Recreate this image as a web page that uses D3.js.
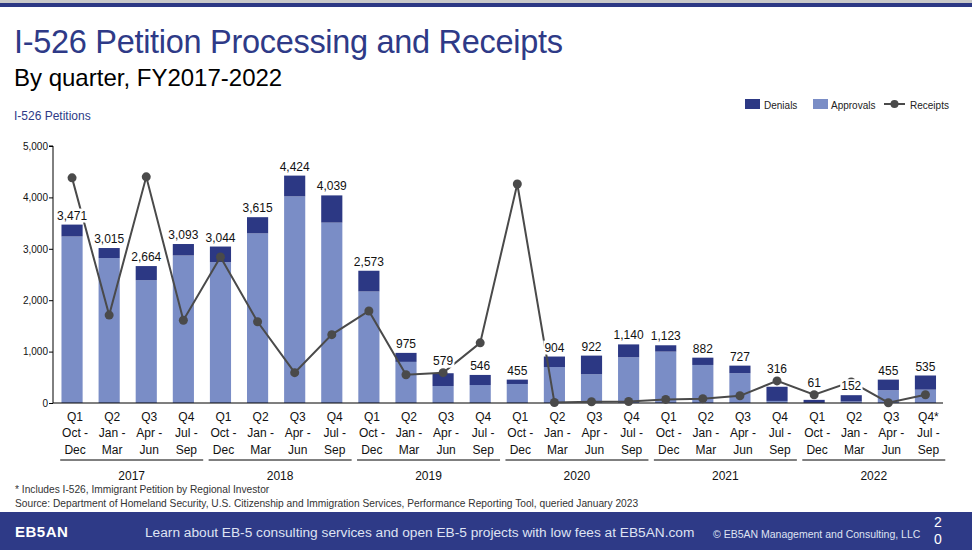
<!DOCTYPE html>
<html>
<head>
<meta charset="utf-8">
<script src="https://cdn.jsdelivr.net/npm/d3@7/dist/d3.min.js"></script>
<style>
  html, body { margin: 0; padding: 0; background: #fff; }
  svg { display: block; font-family: "Liberation Sans", Arial, sans-serif; }
</style>
</head>
<body>
<svg id="chart" width="972" height="550"></svg>
<script>
// quarters of each fiscal year
const years = ["2017", "2018", "2019", "2020", "2021", "2022"];
const quarters = ["Q1", "Q2", "Q3", "Q4"];
const months = [["Oct -", "Dec"], ["Jan -", "Mar"], ["Apr -", "Jun"], ["Jul -", "Sep"]];

const totals    = [3471, 3015, 2664, 3093, 3044, 3615, 4424, 4039, 2573, 975, 579, 546,
                   455, 904, 922, 1140, 1123, 882, 727, 316, 61, 152, 455, 535];
const approvals = [3240, 2820, 2390, 2870, 2740, 3300, 4020, 3510, 2170, 800, 330, 350,
                   370, 700, 560, 890, 1000, 740, 580, 40, 5, 30, 250, 260];
const denials   = [231, 195, 274, 223, 304, 315, 404, 529, 403, 175, 249, 196,
                   85, 204, 362, 250, 123, 142, 147, 276, 56, 122, 205, 275];
const receipts  = [4380, 1710, 4400, 1610, 2840, 1580, 590, 1330, 1790, 550, 590, 1170,
                   4260, 10, 25, 30, 70, 85, 140, 430, 160, 410, 5, 160];
const yTicks = [0, 1000, 2000, 3000, 4000, 5000];

const navy = "#2c3884";
const light = "#7a8dc6";
const lineCol = "#4a4a4a";

const svg = d3.select("#chart");

// rows: one per quarter
let rows = [];
years.forEach((y, yi) => {
  quarters.forEach((q, qi) => {
    let i = yi * 4 + qi;
    rows.push({
      key: y + q, year: y, q: (y == "2022" && q == "Q4") ? "Q4*" : q, m: months[qi],
      approvals: approvals[i], denials: denials[i], total: totals[i], receipts: receipts[i]
    });
  });
});

// top rules
svg.append("rect").attr("x", 0).attr("y", 0).attr("width", 972).attr("height", 3).attr("fill", "#c9c9c9");
svg.append("rect").attr("x", 0).attr("y", 3).attr("width", 972).attr("height", 4).attr("fill", navy);

// titles
svg.append("text").attr("x", 14).attr("y", 53).attr("fill", "#2e3a87")
  .attr("font-size", 32.5).attr("letter-spacing", -0.3)
  .text("I-526 Petition Processing and Receipts");
svg.append("text").attr("x", 14).attr("y", 86).attr("fill", "#000")
  .attr("font-size", 24).text("By quarter, FY2017-2022");
svg.append("text").attr("x", 14).attr("y", 120).attr("fill", "#2e3a87")
  .attr("font-size", 12).text("I-526 Petitions");

// scales
const x = d3.scaleBand().domain(rows.map(d => d.key)).range([53.5, 944])
  .paddingInner(0.43).paddingOuter(0.215);
const y = d3.scaleLinear().domain([0, 5000]).range([403, 146]);
const bw = x.bandwidth();
const cx = d => x(d.key) + bw / 2;

// y axis
let yAxis = svg.append("g").attr("transform", "translate(53,0)")
  .call(d3.axisLeft(y).tickValues(yTicks).tickSize(4).tickFormat(d3.format(",")));
yAxis.select(".domain").attr("stroke", "#000").attr("d", "M-4," + y(5000) + "H0V" + y(0));
yAxis.selectAll(".tick line").attr("stroke", "#000");
yAxis.selectAll(".tick text").attr("font-size", 10).attr("fill", "#111")
  .attr("font-family", "Liberation Sans, Arial, sans-serif").attr("x", -5);

// bars
const stack = svg.append("g");
stack.selectAll("rect.app").data(rows).join("rect").attr("class", "app")
  .attr("x", d => x(d.key)).attr("width", bw)
  .attr("y", d => y(d.approvals)).attr("height", d => y(0) - y(d.approvals))
  .attr("fill", light);
stack.selectAll("rect.den").data(rows).join("rect").attr("class", "den")
  .attr("x", d => x(d.key)).attr("width", bw)
  .attr("y", d => y(d.approvals + d.denials)).attr("height", d => y(d.approvals) - y(d.approvals + d.denials))
  .attr("fill", navy);

// x axis baseline
svg.append("line").attr("x1", 53).attr("x2", 943).attr("y1", y(0)).attr("y2", y(0))
  .attr("stroke", "#000").attr("stroke-width", 1.2);

// receipts line
const line = d3.line().x(d => cx(d)).y(d => y(d.receipts));
svg.append("path").datum(rows).attr("d", line)
  .attr("fill", "none").attr("stroke", lineCol).attr("stroke-width", 2);
svg.selectAll("circle.rc").data(rows).join("circle").attr("class", "rc")
  .attr("cx", d => cx(d)).attr("cy", d => y(d.receipts)).attr("r", 4.5).attr("fill", lineCol);

// value labels (white box, nudged up when a marker sits at the bar top)
const labY = d => {
  let top = y(d.total), m = y(d.receipts);
  return (m > top - 12) ? Math.min(top - 5, m - 8) : top - 5;
};
const labels = svg.append("g").selectAll("g").data(rows).join("g")
  .attr("transform", d => `translate(${cx(d)},${labY(d)})`);
labels.append("text").attr("text-anchor", "middle").attr("font-size", 12).attr("fill", "#111")
  .text(d => d3.format(",")(d.total));
labels.each(function() {
  let g = d3.select(this);
  let b = g.select("text").node().getBBox();
  g.insert("rect", "text").attr("x", b.x - 1).attr("y", b.y).attr("width", b.width + 2)
    .attr("height", b.height).attr("fill", "#fff");
});

// category labels
const lab = svg.append("g").attr("font-size", 12).attr("fill", "#111").attr("text-anchor", "middle");
rows.forEach(d => {
  let lx = cx(d) + 3;
  lab.append("text").attr("x", lx).attr("y", 421).text(d.q);
  lab.append("text").attr("x", lx).attr("y", 437).text(d.m[0]);
  lab.append("text").attr("x", lx).attr("y", 454).text(d.m[1]);
});
years.forEach(yr => {
  let first = rows.find(r => r.year == yr), last = rows.filter(r => r.year == yr).pop();
  let mid = (cx(first) + cx(last)) / 2 + 4;
  svg.append("line").attr("x1", mid - 71.5).attr("x2", mid + 71.5).attr("y1", 460).attr("y2", 460)
    .attr("stroke", "#000").attr("stroke-width", 1);
  lab.append("text").attr("x", mid).attr("y", 480).text(yr);
});

// legend
const leg = svg.append("g").attr("font-size", 10).attr("fill", "#222");
leg.append("rect").attr("x", 745).attr("y", 99).attr("width", 15).attr("height", 10).attr("fill", navy);
leg.append("text").attr("x", 764).attr("y", 108.5).text("Denials");
leg.append("rect").attr("x", 813).attr("y", 99).attr("width", 15).attr("height", 10).attr("fill", light);
leg.append("text").attr("x", 831).attr("y", 108.5).text("Approvals");
leg.append("line").attr("x1", 884).attr("x2", 905).attr("y1", 104).attr("y2", 104)
  .attr("stroke", lineCol).attr("stroke-width", 2);
leg.append("circle").attr("cx", 894.5).attr("cy", 104).attr("r", 4).attr("fill", lineCol);
leg.append("text").attr("x", 910).attr("y", 108.5).text("Receipts");

// notes
svg.append("text").attr("x", 15).attr("y", 493).attr("font-size", 10.2).attr("fill", "#333")
  .text("* Includes I-526, Immigrant  Petition by Regional Investor");
svg.append("text").attr("x", 15).attr("y", 507).attr("font-size", 10.2).attr("fill", "#333")
  .text("Source: Department of Homeland Security, U.S. Citizenship and Immigration Services, Performance Reporting Tool, queried January 2023");

// footer band
svg.append("rect").attr("x", 0).attr("y", 512).attr("width", 972).attr("height", 38).attr("fill", "#2e3a87");
svg.append("text").attr("x", 15).attr("y", 537).attr("font-size", 15).attr("font-weight", "bold")
  .attr("fill", "#fff").attr("letter-spacing", 0.5).text("EB5AN");
svg.append("text").attr("x", 145).attr("y", 537).attr("font-size", 13.7).attr("fill", "#dfe3f3")
  .text("Learn about EB-5 consulting services and open EB-5 projects with low fees at EB5AN.com");
svg.append("text").attr("x", 713).attr("y", 538).attr("font-size", 10.5).attr("fill", "#dfe3f3")
  .text("\u00a9 EB5AN Management and Consulting, LLC");
svg.append("text").attr("x", 938).attr("y", 527).attr("font-size", 14).attr("fill", "#fff")
  .attr("text-anchor", "middle").text("2");
svg.append("text").attr("x", 938).attr("y", 544).attr("font-size", 14).attr("fill", "#fff")
  .attr("text-anchor", "middle").text("0");
</script>
</body>
</html>
